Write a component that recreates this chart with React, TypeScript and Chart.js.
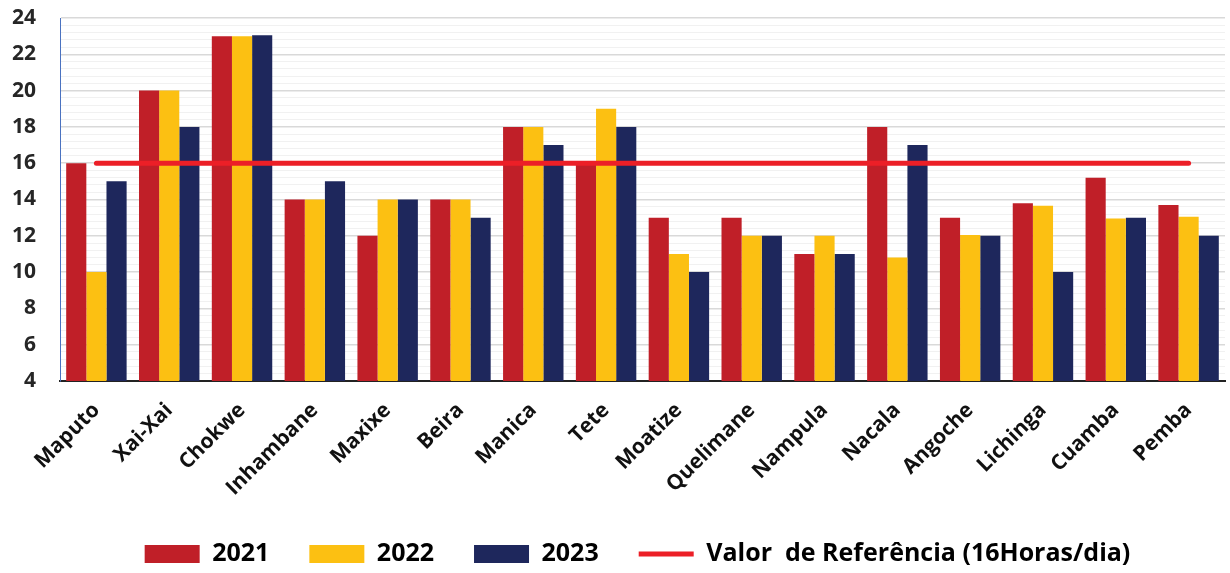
import React, { useEffect, useRef } from "react";
import { Chart, registerables } from "chart.js";

Chart.register(...registerables);

const categories = [
  "Maputo", "Xai-Xai", "Chokwe", "Inhambane", "Maxixe", "Beira", "Manica", "Tete",
  "Moatize", "Quelimane", "Nampula", "Nacala", "Angoche", "Lichinga", "Cuamba", "Pemba",
];
const values2021 = [16, 20, 23, 14, 12, 14, 18, 16, 13, 13, 11, 18, 13, 13.8, 15.2, 13.7];
const values2022 = [10, 20, 23, 14, 14, 14, 18, 19, 11, 12, 12, 10.8, 12.05, 13.65, 12.95, 13.05];
const values2023 = [15, 18, 23.05, 15, 14, 13, 17, 18, 10, 12, 11, 17, 12, 10, 13, 12];
const referenceValue = 16;
const referenceLine = categories.map(() => referenceValue);
const seriesLabels = ["2021", "2022", "2023", "Valor  de Referência (16Horas/dia)"];

const FONT = '"Open Sans", "Liberation Sans", sans-serif';

const legendShift = {
  id: "legendShift",
  afterLayout(chart: any) {
    if (chart.legend) {
      chart.legend.left += 20;
      chart.legend.right += 20;
    }
  },
};

export default function App() {
  const ref = useRef<HTMLCanvasElement | null>(null);

  useEffect(() => {
    if (!ref.current) return;
    const isMajor = (v: number) => Math.abs(v / 2 - Math.round(v / 2)) < 1e-6;
    const chart = new Chart(ref.current, {
      type: "bar",
      plugins: [legendShift],
      data: {
        labels: categories,
        datasets: [
          {
            label: seriesLabels[0],
            data: values2021,
            backgroundColor: "#c01f28",
            borderWidth: 0,
            order: 1,
            pointStyle: "rect",
          } as any,
          {
            label: seriesLabels[1],
            data: values2022,
            backgroundColor: "#fcc012",
            borderWidth: 0,
            order: 1,
            pointStyle: "rect",
          },
          {
            label: seriesLabels[2],
            data: values2023,
            backgroundColor: "#1e275c",
            borderWidth: 0,
            order: 1,
            pointStyle: "rect",
          },
          {
            type: "line",
            label: seriesLabels[3],
            data: referenceLine,
            borderColor: "#ec1f27",
            backgroundColor: "#ec1f27",
            borderWidth: 5,
            borderCapStyle: "round",
            pointRadius: 0,
            pointHoverRadius: 0,
            pointStyle: "line",
            order: 0,
          },
        ],
      },
      options: {
        animation: false,
        responsive: true,
        maintainAspectRatio: false,
        layout: { padding: { left: 10, right: 5, top: 18, bottom: -3.5 } },
        datasets: {
          bar: { barPercentage: 1, categoryPercentage: 0.83 },
        },
        plugins: {
          tooltip: { enabled: false },
          legend: {
            position: "bottom",
            labels: {
              usePointStyle: true,
              pointStyleWidth: 55,
              boxHeight: 18,
              padding: 40,
              color: "#000",
              font: { family: FONT, size: 25, weight: "bold" },
              sort: (a: any, b: any) => a.datasetIndex - b.datasetIndex,
            },
          },
        },
        scales: {
          x: {
            grid: { display: false, drawTicks: false },
            border: { color: "#222", width: 2 },
            afterFit: (s: any) => {
              s.paddingLeft = 0;
              s.paddingRight = 0;
              s.height = 120.5;
            },
            ticks: {
              minRotation: 45,
              maxRotation: 45,
              padding: 17,
              color: "#111",
              font: { family: FONT, size: 21, weight: "bold" },
            },
          },
          y: {
            min: 4,
            max: 24,
            border: { color: "#4a72c0", width: 1 },
            afterFit: (s: any) => {
              s.width = 50;
              s.paddingTop = 0;
              s.paddingBottom = 0;
            },
            grid: {
              drawTicks: false,
              color: (ctx: any) => (isMajor(ctx.tick.value) ? "#d9d9d9" : "#f1f1f1"),
              lineWidth: (ctx: any) => (isMajor(ctx.tick.value) ? 1.5 : 1),
            },
            ticks: {
              stepSize: 0.4,
              autoSkip: false,
              padding: 24,
              color: "#262626",
              font: { family: FONT, size: 21, weight: "bold" },
              callback: (v: any) => (isMajor(Number(v)) ? String(Math.round(Number(v))) : ""),
            },
          },
        },
      },
    });
    return () => chart.destroy();
  }, []);

  return (
    <div style={{ position: "fixed", left: 0, top: 0, width: 1230, height: 573, background: "#fff" }}>
      <canvas ref={ref} />
    </div>
  );
}
